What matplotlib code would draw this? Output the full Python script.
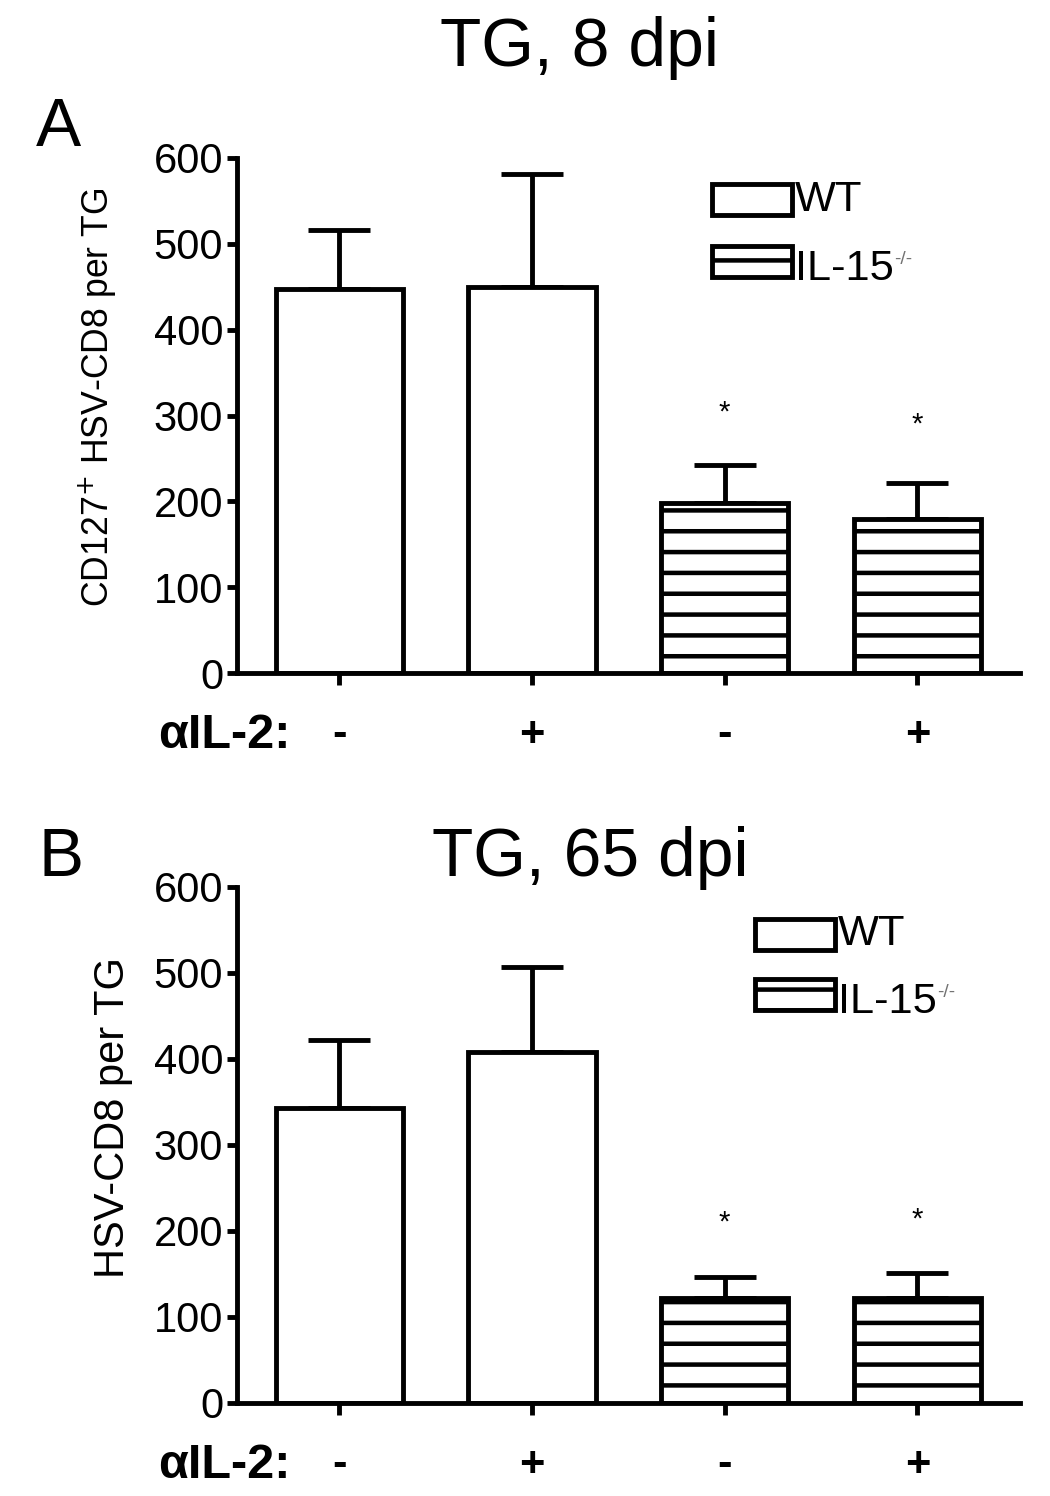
import numpy as np
import matplotlib
matplotlib.use('Agg')
import matplotlib.pyplot as plt
from matplotlib.patches import Rectangle

plt.rcParams['font.family'] = ['Liberation Sans', 'DejaVu Sans']
plt.rcParams['hatch.linewidth'] = 2.6

# data
groups = ['WT', 'WT', 'IL-15-/-', 'IL-15-/-']
il2_labels = ['-', '+', '-', '+']

means_8dpi = [447, 450, 198, 179]
sem_8dpi = [69, 131, 44, 42]
star_8dpi = [304, 290]

means_65dpi = [343, 408, 122, 122]
sem_65dpi = [79, 99, 25, 29]
star_65dpi = [210, 213]

hatches = ['', '', '-', '-']

fig = plt.figure(figsize=(8.4, 11.968), dpi=125)

lw = 2.8


def panel(ax, means, sems, stars, ylabel, ylab_size, ylab_xy, leg_x, leg_y1, leg_y2):
    x = np.arange(len(means))
    ax.errorbar(x, means, yerr=[np.zeros(len(sems)), sems], fmt='none',
                ecolor='black', elinewidth=lw, capsize=18, capthick=lw, zorder=1)
    ax.bar(x, means, width=0.66, color='white', edgecolor='black',
           linewidth=lw, hatch=hatches, zorder=2)
    for xi, s in zip(x[2:], stars):
        ax.text(xi, s, '*', ha='center', va='center', fontsize=17)
    ax.set_xlim(-0.53, 3.53)
    ax.set_ylim(0, 600)
    ax.set_yticks(range(0, 601, 100))
    ax.set_xticks(x)
    ax.set_xticklabels(il2_labels, fontsize=25, fontweight='bold')
    ax.tick_params(axis='y', labelsize=24, width=lw, length=6, direction='out', pad=2)
    ax.tick_params(axis='x', width=lw, length=7, direction='out', pad=17)
    for side in ['top', 'right']:
        ax.spines[side].set_visible(False)
    for side in ['left', 'bottom']:
        ax.spines[side].set_linewidth(lw)
    ax.set_ylabel(ylabel, fontsize=ylab_size)
    ax.yaxis.set_label_coords(*ylab_xy)

    # legend boxes
    w, h = 0.102, 0.060
    ax.add_patch(Rectangle((leg_x, leg_y1), w, h, transform=ax.transAxes,
                           facecolor='white', edgecolor='black', linewidth=lw,
                           clip_on=False))
    ax.add_patch(Rectangle((leg_x, leg_y2), w, h, transform=ax.transAxes,
                           facecolor='white', edgecolor='black', linewidth=lw,
                           hatch='-', clip_on=False))
    ax.text(leg_x + w + 0.004, leg_y1 + h / 2, 'WT', transform=ax.transAxes,
            ha='left', va='center', fontsize=25)
    t = ax.text(leg_x + w + 0.004, leg_y2 + h / 2 - 0.015, 'IL-15',
                transform=ax.transAxes, ha='left', va='center', fontsize=25)
    ax.annotate('-/-', xy=(1.0, 0.75), xycoords=t, ha='left', va='center',
                fontsize=11, color='0.45')


axA = fig.add_axes([0.2257, 0.5501, 0.7453, 0.3443])
panel(axA, means_8dpi, sem_8dpi, star_8dpi,
      r'CD127$^{+}$ HSV-CD8 per TG', 20.5, (-0.151, 0.536), 0.607, 0.889, 0.769)

axB = fig.add_axes([0.2257, 0.0622, 0.7453, 0.3449])
panel(axB, means_65dpi, sem_65dpi, star_65dpi,
      'HSV-CD8 per TG', 24, (-0.133, 0.554), 0.662, 0.878, 0.762)

fig.text(580 / 1050, 1 - 48 / 1496, 'TG, 8 dpi', ha='center', va='center', fontsize=39)
fig.text(590 / 1050, 1 - 858 / 1496, 'TG, 65 dpi', ha='center', va='center', fontsize=39)
fig.text(36 / 1050, 1 - 128 / 1496, 'A', ha='left', va='center', fontsize=39)
fig.text(38 / 1050, 1 - 858 / 1496, 'B', ha='left', va='center', fontsize=39)
fig.text(158 / 1050, 1 - 735 / 1496, 'αIL-2:', ha='left', va='center',
         fontsize=28, fontweight='bold')
fig.text(158 / 1050, 1 - 1465 / 1496, 'αIL-2:', ha='left', va='center',
         fontsize=28, fontweight='bold')

fig.savefig('out.png', dpi=125)
